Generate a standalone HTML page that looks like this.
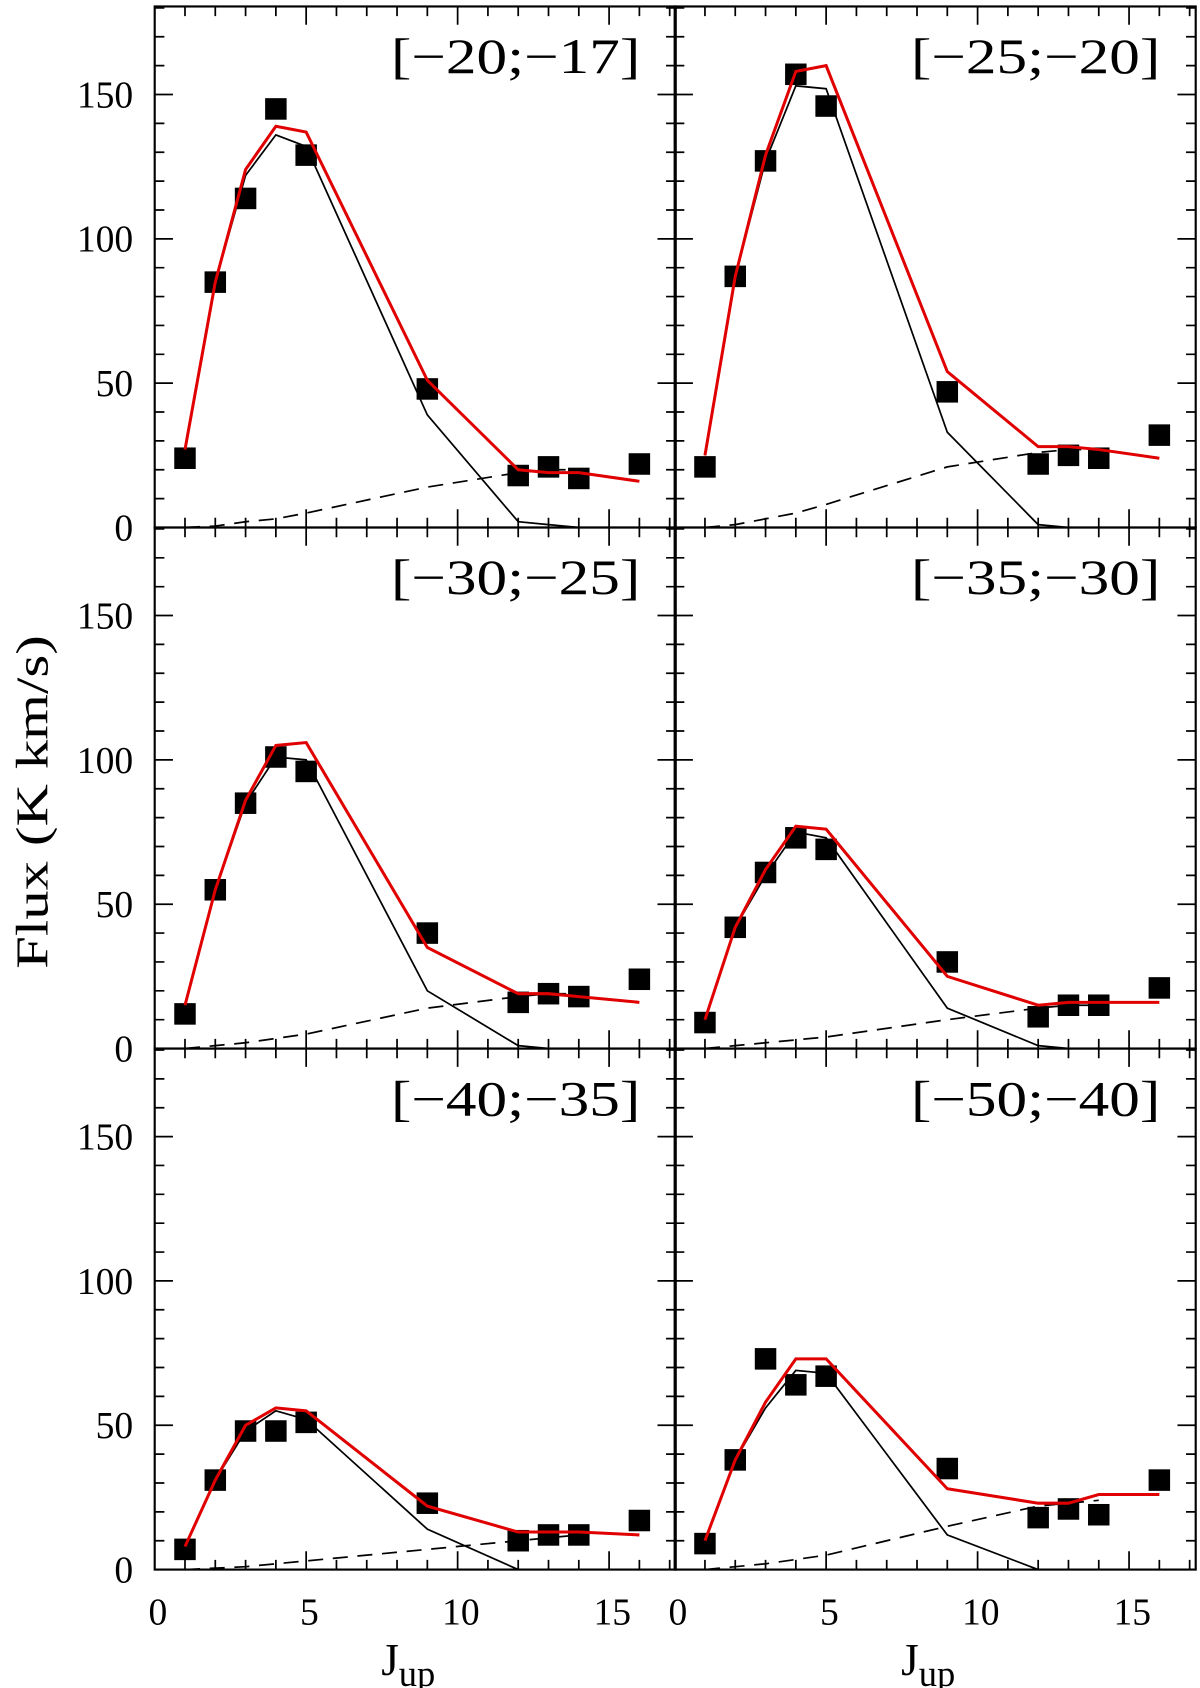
<!DOCTYPE html>
<html><head><meta charset="utf-8"><style>
html,body{margin:0;padding:0;background:#fff;}
svg{display:block;}
text{font-family:"Liberation Serif",serif;fill:#000;}
</style></head><body>
<svg id="fig" width="1200" height="1688" viewBox="0 0 1117 1568" preserveAspectRatio="none" xmlns="http://www.w3.org/2000/svg"></svg>
<script>
const panelTitles = ["[\u221220;\u221217]","[\u221225;\u221220]","[\u221230;\u221225]","[\u221235;\u221230]","[\u221240;\u221235]","[\u221250;\u221240]"];
const jData = [1,2,3,4,5,9,12,13,14,16];
const obsFlux = [
 [24,85,114,145,129,48,18,21,17,22],
 [21,87,127,157,146,47,22,25,24,32],
 [12,55,85,101,96,40,16,19,18,24],
 [9,42,61,73,69,30,11,15,15,21],
 [7,31,48,48,51,23,10,12,12,17],
 [9,38,73,64,67,35,18,21,19,31]];
const jRed = [1,2,3,4,5,9,12,13,14,16];
const redFlux = [
 [27,85,124,139,137,51,20,19,19,16],
 [25,87,129,158,160,54,28,28,27,24],
 [15,55,86,105,106,35,19,19,18,16],
 [10,42,62,77,76,25,15,16,16,16],
 [8,31,50,56,55,22,13,13,13,12],
 [10,38,58,73,73,28,23,23,26,26]];
const jBlack = [1,2,3,4,5,9,12,13,14];
const blackFlux = [
 [27,85,122,136,132,39,2,1,0],
 [25,87,127,153,152,33,1,0,0],
 [15,55,85,101,100,20,1,0,0],
 [10,42,60,75,73,14,1,0,0],
 [8,31,48,55,52,14,0,0,0],
 [10,38,56,69,68,12,0,0,0]];
const jDash = [1,2,3,4,5,9,12,13,14];
const dashFlux = [
 [0,0.5,2,3,5,14,19,20,20],
 [0,1,3,5,8,21,26,27,27],
 [0,1,2,3.5,5,14,18,19,19],
 [0,1,2,3,4,10,14,15,15],
 [0,0.5,1,2,3,7,10,11,12],
 [0,1,2,3.5,5,15,22,23,24]];
const xTickLabels = [0,5,10,15];
const yTickLabels = [0,50,100,150];

const NS="http://www.w3.org/2000/svg";
const svg=document.getElementById('fig');
const PX=[144,628], PY=[6,490,974], PW=485, PH=484;
const XMAX=17.2, YMAX=180.5;
function mk(tag,attrs,parent){const e=document.createElementNS(NS,tag);for(const k in attrs)e.setAttribute(k,attrs[k]);(parent||svg).appendChild(e);return e;}
for(let p=0;p<6;p++){
  const col=p%2,row=Math.floor(p/2);
  const x0=PX[col],y0=PY[row];
  const sx=v=>x0+v/XMAX*PW, sy=v=>y0+PH-v/YMAX*PH;
  const g=mk('g',{});
  
  
  const fr=mk('rect',{x:x0,y:y0,width:PW,height:PH,fill:'none',stroke:'#000','stroke-width':2},g);
  
  
  let d='';
  for(let v=1;v<=17;v++){const L=v%5==0?17:9;const X=sx(v);d+=`M${X},${y0+PH}v${-L}M${X},${y0}v${L}`;}
  for(let v=10;v<=180;v+=10){const L=v%50==0?17:9;const Y=sy(v);d+=`M${x0},${Y}h${L}M${x0+PW},${Y}h${-L}`;}
  const tk=mk('path',{d:d,stroke:'#000','stroke-width':1.6,fill:'none'},g);
  
  
  if(col==0){
    yTickLabels.forEach(v=>{const t=mk('text',{x:x0-20,y:sy(v)+12,'font-size':35,'text-anchor':'end'},g);t.textContent=v;
      
      });
  }
  if(row==2){
    xTickLabels.forEach(v=>{const t=mk('text',{x:sx(v)+3,y:y0+PH+51,'font-size':35,'text-anchor':'middle'},g);t.textContent=v;
      
      });
  }
  const ti=mk('text',{x:x0+PW-33-232,y:y0+62,'font-size':46,textLength:232,lengthAdjust:'spacingAndGlyphs'},g);ti.textContent=panelTitles[p];
  
  
  const pts=(xs,ys)=>xs.map((j,i)=>sx(j)+','+sy(ys[i])).join(' ');
  const dl=mk('polyline',{points:pts(jDash,dashFlux[p]),fill:'none',stroke:'#000','stroke-width':1.6,'stroke-dasharray':'14,9'},g);
  
  
  const bl=mk('polyline',{points:pts(jBlack,blackFlux[p]),fill:'none',stroke:'#000','stroke-width':1.6},g);
  
  
  jData.forEach((j,i)=>{const r=mk('rect',{x:sx(j)-10,y:sy(obsFlux[p][i])-10,width:20,height:20,fill:'#000'},g);
    
    });
  const rl=mk('polyline',{points:pts(jRed,redFlux[p]),fill:'none',stroke:'#e00000','stroke-width':2.8},g);
  
  
  if(row==2){
    const t=mk('text',{x:x0+236,y:1556,'font-size':42,'text-anchor':'middle'},g);
    
    
    t.textContent='J';
    const s=mk('tspan',{dy:10,'font-size':34},t);s.textContent='up';
  }
}
const yl=mk('text',{x:-155,y:0,'font-size':42,textLength:310,lengthAdjust:'spacingAndGlyphs',transform:'translate(44,745) rotate(-90)'});
yl.textContent='Flux (K km/s)';


</script>
</body></html>
